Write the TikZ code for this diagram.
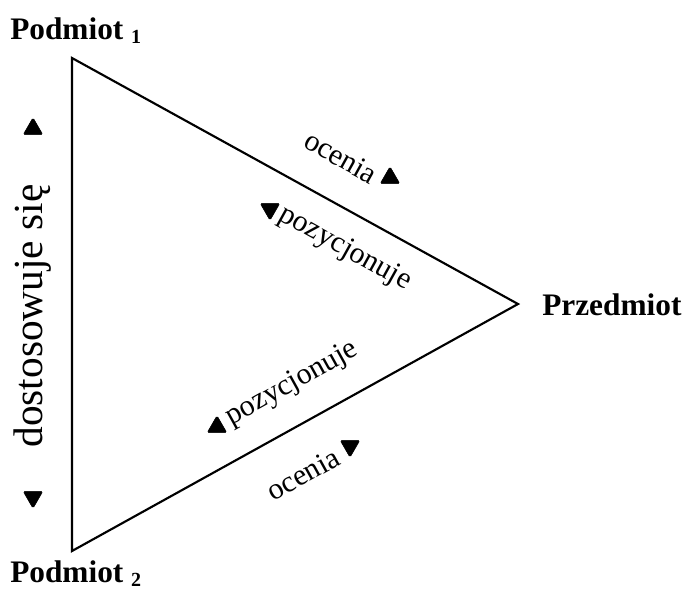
\documentclass[tikz,border=0pt]{standalone}
\usepackage{fontspec}
\setmainfont{Liberation Serif}
\usetikzlibrary{shapes.geometric, positioning, calc}
\tikzset{
  %% Corner label
  vlabel/.style={font=\fontsize{23.5}{28}\selectfont\bfseries, inner sep=0pt},
  %% Text along an edge
  etext/.style={font=\fontsize{22.5}{26}\selectfont, inner sep=0pt},
  %% Small filled triangle
  tri/.style={regular polygon, regular polygon sides=3,
              fill=black, draw=black, rounded corners=1.2pt,
              inner sep=0pt, minimum size=#1},
  tri/.default=17pt,
}

\begin{document}
\begin{tikzpicture}[x=0.75pt, y=-0.75pt]
  \useasboundingbox (0,0) rectangle (684,594);

  %% Vertices
  \coordinate (p1) at (72,58);
  \coordinate (p2) at (72,551);
  \coordinate (pr) at (518,304);
  \draw[line width=1.6pt, line join=miter] (p1) -- (pr) -- (p2) -- cycle;

  %% Vertex labels
  \node[vlabel, anchor=base west] (s1) at (10,39)
       {Podmiot \lower3pt\hbox{\fontsize{15}{15}\selectfont 1}};
  \node[vlabel, anchor=base west] (s2) at (10,582)
       {Podmiot \lower3pt\hbox{\fontsize{15}{15}\selectfont 2}};
  \node[vlabel, anchor=base west] (ob) at (542,315) {Przedmiot};

  %% Upper edge
  \node[etext, rotate=-29] (oc1) at (341,157) {ocenia};
  \node[tri] (a1) at (390,178) {};
  \node[etext, rotate=-29] (po1) at (345,249) {pozycjonuje};
  \node[tri, shape border rotate=180] (a2) at (270,209) {};

  %% Lower edge
  \node[etext, rotate=29] (po2) at (292,384) {pozycjonuje};
  \node[tri] (a3) at (217,427) {};
  \node[etext, rotate=29] (oc2) at (303,474) {ocenia};
  \node[tri, shape border rotate=180] (a4) at (350,446) {};

  %% Left side
  \node[etext, font=\fontsize{31}{36}\selectfont, rotate=90] (ad) at (33,316)
       {dostosowuje się};
  \node[tri] (a5) at (33,129) {};
  \node[tri, shape border rotate=180] (a6) at (33,497) {};
\end{tikzpicture}
\end{document}
